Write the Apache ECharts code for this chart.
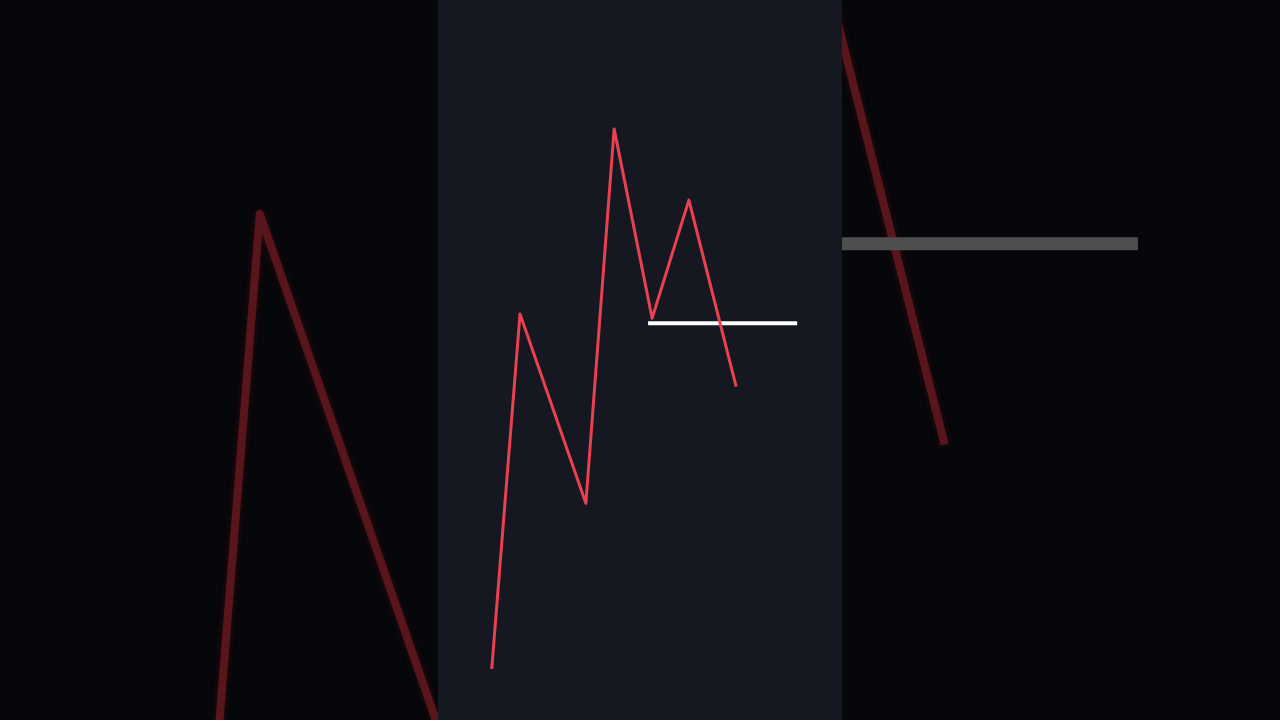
<!DOCTYPE html>
<html>
<head>
<meta charset="utf-8">
<title>Zigzag</title>
<script src="https://cdn.jsdelivr.net/npm/echarts@6/dist/echarts.min.js"></script>
<style>
  html, body { margin: 0; padding: 0; background: #06070a; }
  #chart { width: 1280px; height: 720px; }
</style>
</head>
<body>
<div id="chart"></div>
<script>
// price path, x in panel units (0..100), y in price units (0..100)
const pathX = [13.3, 20.3, 36.6, 43.6, 53.0, 62.1, 73.8];
const pathY = [7.1, 56.4, 30.1, 82.1, 55.8, 72.2, 46.3];

// horizontal level line
const levelX = [52.0, 88.9];
const levelY = [55.1, 55.1];

const PANEL_LEFT = 438;
const PANEL_WIDTH = 404;
const CANVAS_W = 1280;
const CANVAS_H = 720;

const chart = echarts.init(document.getElementById("chart"));

function toPairs(xs, ys) {
  return xs.map((x, i) => [x, ys[i]]);
}

// the blurred backdrop is the same picture zoomed to fill the width
const zoom = CANVAS_W / PANEL_WIDTH;
const bgSpan = 100 / zoom;
const bgMin = 50 - bgSpan / 2;
const bgMax = 50 + bgSpan / 2;

function hiddenAxis(gridIndex, min, max) {
  return {
    type: "value",
    gridIndex,
    min,
    max,
    show: false,
    splitLine: { show: false }
  };
}

const pricePath = toPairs(pathX, pathY);
const levelLine = toPairs(levelX, levelY);

chart.setOption({
  backgroundColor: "#06070a",
  animation: false,
  grid: [
    { left: 0, top: 0, width: CANVAS_W, height: CANVAS_H, show: false },
    {
      left: PANEL_LEFT,
      top: 0,
      width: PANEL_WIDTH,
      height: CANVAS_H,
      show: true,
      backgroundColor: "#161821",
      borderWidth: 0,
      z: 3
    }
  ],
  xAxis: [hiddenAxis(0, 0, 100), hiddenAxis(1, 0, 100)],
  yAxis: [hiddenAxis(0, bgMin, bgMax), hiddenAxis(1, 0, 100)],
  series: [
    {
      name: "backdrop path",
      type: "line",
      xAxisIndex: 0,
      yAxisIndex: 0,
      data: pricePath,
      showSymbol: false,
      z: 1,
      lineStyle: { color: "#58151b", width: 8, join: "round", shadowColor: "#2e0a0e", shadowBlur: 6 }
    },
    {
      name: "backdrop level",
      type: "line",
      xAxisIndex: 0,
      yAxisIndex: 0,
      data: levelLine,
      showSymbol: false,
      z: 1,
      lineStyle: { color: "#4e4e4e", width: 13, cap: "butt" }
    },
    {
      name: "level",
      type: "line",
      xAxisIndex: 1,
      yAxisIndex: 1,
      data: levelLine,
      showSymbol: false,
      z: 4,
      lineStyle: { color: "#ffffff", width: 4, cap: "butt" }
    },
    {
      name: "price",
      type: "line",
      xAxisIndex: 1,
      yAxisIndex: 1,
      data: pricePath,
      showSymbol: false,
      z: 5,
      lineStyle: { color: "#e8414f", width: 3, join: "round" }
    }
  ]
});

window.addEventListener("resize", () => chart.resize());
</script>
</body>
</html>
